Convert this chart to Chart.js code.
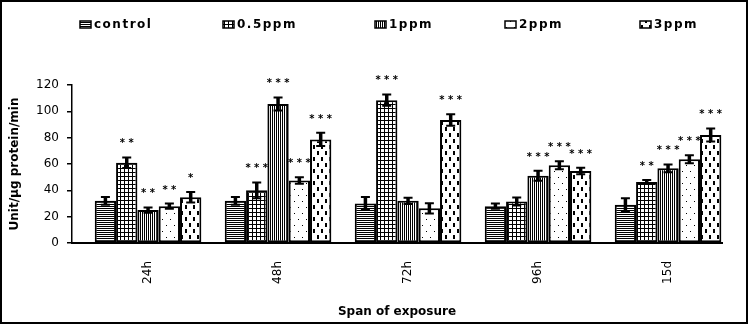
<!DOCTYPE html>
<html>
<head>
<meta charset="utf-8">
<script src="https://cdn.jsdelivr.net/npm/chart.js@4.4.0/dist/chart.umd.min.js"></script>
<style>
body{margin:0;background:#fff}
#box{width:749px;height:326px;position:relative}
</style>
</head>
<body>
<div id="box"><canvas id="enzyme"></canvas></div>
<script>
var spans = ['24h', '48h', '72h', '96h', '15d']
var series = ['control', '0.5ppm', '1ppm', '2ppm', '3ppm']
var yTicks = [0, 20, 40, 60, 80, 100, 120]

// mean values per exposure span
var control = [32, 32, 30, 28, 29]
var ppm05 = [61, 40, 108.5, 31.5, 46.3]
var ppm1 = [25, 105.6, 32, 51, 56.7]
var ppm2 = [28, 47.5, 26.3, 59, 63.6]
var ppm3 = [34.7, 78.7, 93.4, 54.7, 82]

// error (+/-)
var err_control = [3, 3, 5, 2, 5]
var err_ppm05 = [4, 6, 4.3, 3, 1.5]
var err_ppm1 = [2, 5, 2.3, 3.8, 3]
var err_ppm2 = [2, 2.5, 3.8, 3, 3]
var err_ppm3 = [4, 5, 4.3, 2.5, 5]

// significance
var sig_control = ['', '', '', '', '']
var sig_ppm05 = ['**', '***', '***', '', '**']
var sig_ppm1 = ['**', '***', '', '***', '***']
var sig_ppm2 = ['**', '***', '', '***', '***']
var sig_ppm3 = ['*', '***', '***', '***', '***']

var values = [control, ppm05, ppm1, ppm2, ppm3]
var errs = [err_control, err_ppm05, err_ppm1, err_ppm2, err_ppm3]
var sigs = [sig_control, sig_ppm05, sig_ppm1, sig_ppm2, sig_ppm3]

var legendX = [80, 223, 375, 505, 640]

function pattern(w, h, draw){
    var c = document.createElement('canvas')
    c.width = w
    c.height = h
    var g = c.getContext('2d')
    g.fillStyle = '#fff'
    g.fillRect(0, 0, w, h)
    g.fillStyle = '#000'
    draw(g)
    return g.createPattern(c, 'repeat')
}
var fills = [
    pattern(2, 2, function(g){ g.fillRect(0, 0, 2, 1) }),                         // horizontal lines
    pattern(4, 4, function(g){ g.fillRect(0, 0, 4, 1); g.fillRect(0, 0, 1, 4) }),  // grid
    pattern(2, 2, function(g){ g.fillRect(0, 0, 1, 2) }),                         // vertical lines
    pattern(8, 12, function(g){ g.fillRect(2, 3, 1, 1); g.fillRect(6, 9, 1, 1) }), // dots
    pattern(8, 12, function(g){ g.fillRect(1, 1, 2, 4); g.fillRect(5, 7, 2, 4) })  // dashes
]

var errorBars = {
    id: 'errorBars',
    afterDatasetsDraw: function(chart){
        var ctx = chart.ctx
        var y = chart.scales.y
        ctx.save()
        ctx.strokeStyle = '#000'
        ctx.fillStyle = '#000'
        ctx.font = 'bold 10px "DejaVu Sans"'
        ctx.textAlign = 'center'
        chart.data.datasets.forEach(function(ds, i){
            chart.getDatasetMeta(i).data.forEach(function(bar, j){
                var v = values[i][j], e = errs[i][j]
                var top = y.getPixelForValue(v + e)
                var bot = y.getPixelForValue(v - e)
                ctx.lineWidth = 3.5
                ctx.beginPath()
                ctx.moveTo(bar.x, top)
                ctx.lineTo(bar.x, bot)
                ctx.stroke()
                ctx.lineWidth = 2
                ctx.beginPath()
                ctx.moveTo(bar.x - 4.5, top)
                ctx.lineTo(bar.x + 4.5, top)
                ctx.moveTo(bar.x - 4.5, bot)
                ctx.lineTo(bar.x + 4.5, bot)
                ctx.stroke()
                if (sigs[i][j]) ctx.fillText(sigs[i][j].split('').join(' '), bar.x, top - 11)
            })
        })
        ctx.restore()
    }
}

var legendFrame = {
    id: 'legendFrame',
    afterDraw: function(chart){
        var ctx = chart.ctx
        ctx.save()
        ctx.font = 'bold 12px "DejaVu Sans"'
        ctx.letterSpacing = '1.5px'
        ctx.textBaseline = 'middle'
        series.forEach(function(name, i){
            var x = legendX[i]
            ctx.fillStyle = fills[i]
            ctx.fillRect(x, 21, 11, 7)
            ctx.strokeStyle = '#000'
            ctx.lineWidth = 1.5
            ctx.strokeRect(x, 21, 11, 7)
            ctx.fillStyle = '#000'
            ctx.fillText(name, x + 14, 24.5)
        })
        ctx.letterSpacing = '0px'
        ctx.lineWidth = 2
        ctx.strokeRect(1, 1, 746, 322)
        ctx.restore()
    }
}

var set = {
    type: 'bar',
    plugins: [errorBars, legendFrame],
    data: {
        datasets: series.map(function(name, i){
            return {
                label: name,
                data: values[i].map(function(v, j){ return {x: j, y: v} }),
                backgroundColor: fills[i],
                borderColor: '#000',
                borderWidth: 2,
                borderSkipped: false,
                categoryPercentage: 0.82,
                barPercentage: 1
            }
        })
    },
    options: {
        responsive: true,
        maintainAspectRatio: false,
        animation: false,
        layout: {padding: {left: 4, right: 27, top: 85, bottom: 3}},
        plugins: {
            legend: {display: false},
            tooltip: {enabled: false}
        },
        scales: {
            x: {
                type: 'linear',
                offset: false,
                min: -0.585,
                max: 4.415,
                grid: {display: false},
                border: {display: true, color: '#000', width: 2},
                afterBuildTicks: function(scale){
                    scale.ticks = spans.map(function(s, i){ return {value: i} })
                },
                afterFit: function(scale){ scale.height = 80 },
                ticks: {
                    autoSkip: false,
                    minRotation: 90,
                    maxRotation: 90,
                    padding: 10,
                    color: '#000',
                    font: {family: 'DejaVu Sans', size: 12},
                    callback: function(v){ return spans[v] }
                },
                title: {
                    display: true,
                    text: 'Span of exposure',
                    color: '#000',
                    font: {family: 'DejaVu Sans', size: 12, weight: 'bold'},
                    padding: {top: 4, bottom: 4}
                }
            },
            y: {
                min: yTicks[0],
                max: yTicks[yTicks.length - 1],
                afterBuildTicks: function(scale){
                    scale.ticks = yTicks.map(function(v){ return {value: v} })
                },
                afterFit: function(scale){ scale.width = 68 },
                grid: {drawOnChartArea: false, color: '#000', tickLength: 5, lineWidth: 1.5},
                border: {display: true, color: '#000', width: 1.5},
                ticks: {
                    padding: 8,
                    color: '#000',
                    font: {family: 'DejaVu Sans', size: 12}
                },
                title: {
                    display: true,
                    text: 'Unit/µg protein/min',
                    color: '#000',
                    font: {family: 'DejaVu Sans', size: 12, weight: 'bold'},
                    padding: {top: 4, bottom: 4}
                }
            }
        }
    }
}
var chart1 = new Chart(document.getElementById('enzyme').getContext('2d'), set)
</script>
</body>
</html>
